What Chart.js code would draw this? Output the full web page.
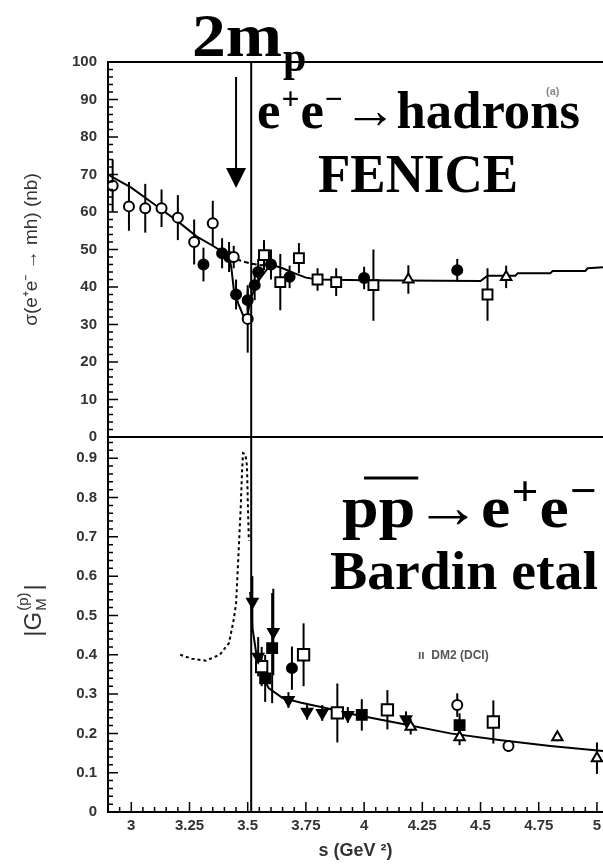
<!DOCTYPE html>
<html>
<head>
<meta charset="utf-8">
<script src="https://cdn.jsdelivr.net/npm/chart.js@4.4.1/dist/chart.umd.min.js"></script>
<style>
  html, body { margin: 0; padding: 0; background: #fff; }
  #wrap { position: relative; width: 603px; height: 864px; overflow: hidden; }
  #inner { position: relative; width: 613px; height: 864px; }
</style>
</head>
<body>
<div id="wrap"><div id="inner"><canvas id="chart"></canvas></div></div>
<script>
// axis ranges / ticks
const xMin = 2.9, xMax = 5.026;
const xTicks = [3, 3.25, 3.5, 3.75, 4, 4.25, 4.5, 4.75, 5];
const yTopTicks = [0, 10, 20, 30, 40, 50, 60, 70, 80, 90, 100];
const yBotTicks = [0, 0.1, 0.2, 0.3, 0.4, 0.5, 0.6, 0.7, 0.8, 0.9];
const yBotMax = 0.954;
const threshold = 3.515; // 4 m_p^2

// top panel: sigma(e+e- -> hadrons), FENICE
const topOpenCircX = [2.92, 2.99, 3.06, 3.13, 3.20, 3.27, 3.35, 3.44, 3.50];
const topOpenCircY = [67, 61.5, 61, 61, 58.5, 52, 57, 48, 31.5];
const topOpenCircErr = [7, 6.5, 6.5, 5, 6, 6, 6, 3, 9];

const topOpenSqX = [3.57, 3.64, 3.72, 3.80, 3.88, 4.04, 4.53];
const topOpenSqY = [48.5, 41.3, 47.7, 42, 41.3, 40.5, 38];
const topOpenSqErr = [4, 7.5, 4, 3, 3.7, 9.5, 7];

const topOpenTriX = [4.19, 4.61];
const topOpenTriY = [42, 42.7];
const topOpenTriErr = [3.8, 3];

const topFilledX = [3.31, 3.39, 3.42, 3.45, 3.50, 3.53, 3.545, 3.60, 3.68, 4.00, 4.40];
const topFilledY = [46, 49, 48, 38, 36.5, 40.5, 44, 46, 42.7, 42.4, 44.5];
const topFilledErr = [4.5, 4, 4, 4, 3, 4, 3.5, 4, 3, 3, 3];

// continuum fit below threshold (solid, then dashed)
const topFitX = [2.9, 3.0, 3.1, 3.2, 3.28, 3.35, 3.42];
const topFitY = [70, 66.5, 62, 57.5, 53.5, 51, 48.3];
const topFitDashX = [3.42, 3.47, 3.51, 3.56, 3.6];
const topFitDashY = [48.3, 47, 46.3, 45.8, 46];

// fit with the dip at threshold
const topDipX = [3.42, 3.43, 3.44, 3.46, 3.48, 3.50, 3.51, 3.53, 3.55, 3.58, 3.6, 3.65, 3.7, 3.75, 3.8, 4.0, 4.5, 4.53, 4.65, 4.66, 4.8, 4.81, 4.95, 4.96, 5.026];
const topDipY = [48.3, 45, 39.5, 35.5, 32.5, 32.5, 36.5, 39.5, 42, 44.5, 46, 45, 43.7, 42.5, 42, 41.8, 41.6, 43, 43, 43.7, 43.7, 44.3, 44.3, 45, 45.3];

// bottom panel: |G_M| from pbar p -> e+e- (Bardin et al.) and DM2
const botTriDownX = [3.52, 3.545, 3.61, 3.675, 3.755, 3.82, 3.93, 4.18];
const botTriDownY = [0.535, 0.395, 0.458, 0.285, 0.255, 0.252, 0.247, 0.236];
const botTriDownErr = [0.065, 0.05, 0.11, 0.02, 0.02, 0.02, 0.02, 0.02];

const botFilledSqX = [3.575, 3.605, 3.99, 4.41];
const botFilledSqY = [0.34, 0.417, 0.247, 0.221];
const botFilledSqErr = [0.06, 0.14, 0.04, 0.03];

const botFilledCircX = [3.69];
const botFilledCircY = [0.366];
const botFilledCircErr = [0.055];

const botOpenSqX = [3.56, 3.74, 3.885, 4.10, 4.555];
const botOpenSqY = [0.37, 0.40, 0.252, 0.26, 0.229];
const botOpenSqErr = [0.05, 0.08, 0.075, 0.05, 0.055];

const botOpenCircX = [4.40, 4.62];
const botOpenCircY = [0.272, 0.168];
const botOpenCircErr = [0.03, 0.015];

const botOpenTriX = [4.20, 4.41, 4.83, 5.0];
const botOpenTriY = [0.217, 0.19, 0.19, 0.137];
const botOpenTriErr = [0.02, 0.02, 0.01, 0.04];

const botFitX = [3.51, 3.515, 3.52, 3.54, 3.56, 3.59, 3.65, 3.73, 3.83, 3.94, 4.15, 4.37, 4.58, 4.80, 5.026];
const botFitY = [0.56, 0.53, 0.47, 0.39, 0.35, 0.315, 0.29, 0.278, 0.265, 0.25, 0.226, 0.20, 0.183, 0.168, 0.155];

const botDotX = [3.21, 3.26, 3.32, 3.38, 3.42, 3.44, 3.45, 3.46, 3.47, 3.476, 3.48, 3.49, 3.497, 3.50, 3.505];
const botDotY = [0.40, 0.39, 0.385, 0.40, 0.43, 0.49, 0.53, 0.65, 0.775, 0.87, 0.913, 0.91, 0.88, 0.80, 0.69];

const pts = (xs, ys) => xs.map((x, i) => ({ x: x, y: ys[i] }));

function markerSet(xs, ys, errs, axis, style, filled, radius, rotation) {
    return {
        type: 'scatter',
        data: pts(xs, ys),
        errs: errs,
        yAxisID: axis,
        pointStyle: style,
        pointRadius: radius,
        pointRotation: rotation || 0,
        borderColor: '#000',
        backgroundColor: filled ? '#000' : '#fff',
        borderWidth: 2,
        showLine: false,
        order: 0
    };
}

function curveSet(xs, ys, axis, dash) {
    return {
        type: 'line',
        data: pts(xs, ys),
        yAxisID: axis,
        borderColor: '#000',
        borderWidth: 2,
        borderDash: dash || [],
        pointRadius: 0,
        fill: false,
        tension: 0,
        order: 2
    };
}

// error bars, drawn under the markers
const errorBars = {
    id: 'errorBars',
    beforeDatasetsDraw(chart) {
        const ctx = chart.ctx;
        const sx = chart.scales.x;
        ctx.save();
        ctx.strokeStyle = '#000';
        ctx.lineWidth = 2;
        chart.data.datasets.forEach(ds => {
            if (!ds.errs) return;
            const sy = chart.scales[ds.yAxisID];
            ds.data.forEach((p, i) => {
                const px = sx.getPixelForValue(p.x);
                ctx.beginPath();
                ctx.moveTo(px, sy.getPixelForValue(p.y - ds.errs[i]));
                ctx.lineTo(px, sy.getPixelForValue(p.y + ds.errs[i]));
                ctx.stroke();
            });
        });
        ctx.restore();
    }
};

// text made of normal / sup / sub pieces, stretched to a target width; returns the x scale used
function richText(ctx, x, y, parts, size, family, supK, targetW) {
    const font = (kind) => 'bold ' + (kind ? size * supK : size) + 'px ' + family;
    let w = 0;
    parts.forEach(([t, kind]) => { ctx.font = font(kind); w += ctx.measureText(t).width + (kind ? 2 : 0); });
    const k = targetW ? targetW / w : 1;
    ctx.save();
    ctx.translate(x, y);
    ctx.scale(k, 1);
    let cx = 0;
    parts.forEach(([t, kind]) => {
        ctx.font = font(kind);
        const dy = kind === 'sup' ? -size * 0.36 : (kind === 'sub' ? size * 0.22 : 0);
        if (kind) cx += 1;
        ctx.fillText(t, cx, dy);
        cx += ctx.measureText(t).width + (kind ? 1 : 0);
    });
    ctx.restore();
    return k;
}

const frame = {
    id: 'frame',
    afterDraw(chart) {
        const ctx = chart.ctx;
        const a = chart.chartArea;
        const sx = chart.scales.x;
        const yT = chart.scales.yTop;
        const yB = chart.scales.yBot;
        ctx.save();
        ctx.strokeStyle = '#000';
        ctx.fillStyle = '#000';

        // top border and panel separator
        ctx.lineWidth = 2;
        ctx.beginPath();
        ctx.moveTo(a.left, a.top); ctx.lineTo(a.right, a.top);
        ctx.moveTo(a.left, yT.getPixelForValue(0)); ctx.lineTo(a.right, yT.getPixelForValue(0));
        ctx.stroke();

        // inward tick marks
        ctx.lineWidth = 1.5;
        ctx.beginPath();
        for (let i = 0; i <= 50; i++) {
            const py = yT.getPixelForValue(i * 2);
            ctx.moveTo(a.left, py); ctx.lineTo(a.left + (i % 5 === 0 ? 10 : 5), py);
        }
        for (let i = 0; i * 0.02 <= yBotMax; i++) {
            const py = yB.getPixelForValue(i * 0.02);
            ctx.moveTo(a.left, py); ctx.lineTo(a.left + (i % 5 === 0 ? 10 : 5), py);
        }
        for (let i = 58; i <= 100; i++) {
            const px = sx.getPixelForValue(i * 0.05);
            ctx.moveTo(px, a.bottom); ctx.lineTo(px, a.bottom - (i % 5 === 0 ? 10 : 5));
        }
        ctx.stroke();

        // threshold line
        const tx = sx.getPixelForValue(threshold);
        ctx.lineWidth = 2;
        ctx.beginPath();
        ctx.moveTo(tx, a.top); ctx.lineTo(tx, a.bottom);
        ctx.stroke();

        // arrow at 2 m_p
        const ax = sx.getPixelForValue(3.45);
        const ay0 = yT.getPixelForValue(96), ay1 = yT.getPixelForValue(66.4);
        ctx.beginPath();
        ctx.moveTo(ax, ay0); ctx.lineTo(ax, ay1 - 20);
        ctx.stroke();
        ctx.beginPath();
        ctx.moveTo(ax - 10, ay1 - 20); ctx.lineTo(ax + 10, ay1 - 20); ctx.lineTo(ax, ay1);
        ctx.closePath();
        ctx.fill();

        // labels
        const serif = '"Liberation Serif", "Times New Roman", serif';
        ctx.textBaseline = 'alphabetic';
        ctx.textAlign = 'left';
        richText(ctx, 192, 56, [['2m']], 62, serif, 1, 90);
        ctx.font = 'bold 42px ' + serif;
        ctx.fillText('p', 283, 71);

        richText(ctx, 257, 128, [['e'], ['+', 'sup'], ['e'], ['\u2212', 'sup'], ['\u2192'], ['hadrons']], 52, serif, 0.6, 323);
        richText(ctx, 318, 192, [['FENICE']], 54, serif, 1, 200);

        const k = richText(ctx, 342, 527, [['pp'], ['\u2192'], ['e'], ['+', 'sup'], ['e'], ['\u2212', 'sup']], 60, serif, 0.72, 256);
        ctx.font = 'bold 60px ' + serif;
        const wp = ctx.measureText('p').width * k;
        ctx.lineWidth = 3;
        ctx.beginPath();
        ctx.moveTo(342 + wp * 0.6, 478); ctx.lineTo(342 + wp * 2 + 3, 478);
        ctx.stroke();
        richText(ctx, 330, 589, [['Bardin etal']], 54, serif, 1, 268);

        // faint legend remnants
        ctx.fillStyle = '#888';
        ctx.font = 'bold 11px "Liberation Sans", Arial, sans-serif';
        ctx.fillText('(a)', 546, 95);
        ctx.fillStyle = '#555';
        ctx.font = 'bold 12px "Liberation Sans", Arial, sans-serif';
        ctx.fillText('\u0131\u0131  DM2 (DCI)', 418, 659);

        // bottom y title |G_M^(p)|
        ctx.fillStyle = '#333';
        ctx.translate(33, 612);
        ctx.rotate(-Math.PI / 2);
        const sans = '"Liberation Sans", Arial, sans-serif';
        ctx.font = '24px ' + sans;
        const wG = ctx.measureText('|G').width;
        ctx.font = '15px ' + sans;
        const wS = Math.max(ctx.measureText('(p)').width, ctx.measureText('M').width);
        ctx.font = '24px ' + sans;
        const wB = ctx.measureText('|').width;
        let cx = -(wG + wS + wB) / 2;
        ctx.fillText('|G', cx, 8);
        cx += wG + 1;
        ctx.font = '15px ' + sans;
        ctx.fillText('(p)', cx, -5);
        ctx.fillText('M', cx, 13);
        cx += wS + 2;
        ctx.font = '24px ' + sans;
        ctx.fillText('|', cx, 8);
        ctx.restore();
    }
};

const tickFont = { family: '"Liberation Sans", Arial, sans-serif', size: 15, weight: 'bold' };
const fmt = v => String(+Number(v).toFixed(2));

const datasets = [
    markerSet(topOpenCircX, topOpenCircY, topOpenCircErr, 'yTop', 'circle', false, 5),
    markerSet(topOpenSqX, topOpenSqY, topOpenSqErr, 'yTop', 'rect', false, 7),
    markerSet(topOpenTriX, topOpenTriY, topOpenTriErr, 'yTop', 'triangle', false, 6),
    markerSet(topFilledX, topFilledY, topFilledErr, 'yTop', 'circle', true, 5),
    markerSet(botTriDownX, botTriDownY, botTriDownErr, 'yBot', 'triangle', true, 6, 180),
    markerSet(botFilledSqX, botFilledSqY, botFilledSqErr, 'yBot', 'rect', true, 7),
    markerSet(botFilledCircX, botFilledCircY, botFilledCircErr, 'yBot', 'circle', true, 5),
    markerSet(botOpenSqX, botOpenSqY, botOpenSqErr, 'yBot', 'rect', false, 8),
    markerSet(botOpenCircX, botOpenCircY, botOpenCircErr, 'yBot', 'circle', false, 5),
    markerSet(botOpenTriX, botOpenTriY, botOpenTriErr, 'yBot', 'triangle', false, 6),
    curveSet(topFitX, topFitY, 'yTop'),
    curveSet(topFitDashX, topFitDashY, 'yTop', [5, 3]),
    curveSet(topDipX, topDipY, 'yTop'),
    curveSet(botFitX, botFitY, 'yBot'),
    curveSet(botDotX, botDotY, 'yBot', [3, 3])
];

new Chart(document.getElementById('chart'), {
    type: 'scatter',
    data: { datasets: datasets },
    plugins: [errorBars, frame],
    options: {
        responsive: true,
        maintainAspectRatio: false,
        animation: false,
        layout: { padding: { top: 62, left: 0, right: 0, bottom: 0 } },
        plugins: { legend: { display: false }, tooltip: { enabled: false } },
        scales: {
            x: {
                type: 'linear',
                min: xMin,
                max: xMax,
                afterBuildTicks: axis => { axis.ticks = xTicks.map(v => ({ value: v })); },
                afterFit: scale => { scale.height = 52; },
                grid: { display: false, drawTicks: false },
                border: { display: true, color: '#000', width: 2 },
                ticks: { color: '#333', font: tickFont, padding: 5, maxRotation: 0, autoSkip: false, callback: fmt },
                title: { display: true, text: 's (GeV \u00b2)', color: '#333', font: { family: '"Liberation Sans", Arial, sans-serif', size: 18, weight: 'bold' }, padding: { top: 0, bottom: 2 } }
            },
            yBot: {
                type: 'linear',
                position: 'left',
                stack: 'panels',
                stackWeight: 1,
                min: 0,
                max: yBotMax,
                afterBuildTicks: axis => { axis.ticks = yBotTicks.map(v => ({ value: v })); },
                afterFit: scale => { scale.width = 108; },
                grid: { display: false, drawTicks: false },
                border: { display: true, color: '#000', width: 2 },
                ticks: { color: '#333', font: tickFont, padding: 11, autoSkip: false, callback: fmt }
            },
            yTop: {
                type: 'linear',
                position: 'left',
                stack: 'panels',
                stackWeight: 1,
                min: 0,
                max: 100,
                afterBuildTicks: axis => { axis.ticks = yTopTicks.map(v => ({ value: v })); },
                afterFit: scale => { scale.width = 108; },
                grid: { display: false, drawTicks: false },
                border: { display: true, color: '#000', width: 2 },
                ticks: { color: '#333', font: tickFont, padding: 11, autoSkip: false, callback: fmt },
                title: { display: true, text: '\u03c3(e\u207ae\u207b \u2192 mh) (nb)', color: '#333', font: { family: '"Liberation Sans", Arial, sans-serif', size: 19 }, padding: { top: 20, bottom: 0 } }
            }
        }
    }
});
</script>
</body>
</html>
